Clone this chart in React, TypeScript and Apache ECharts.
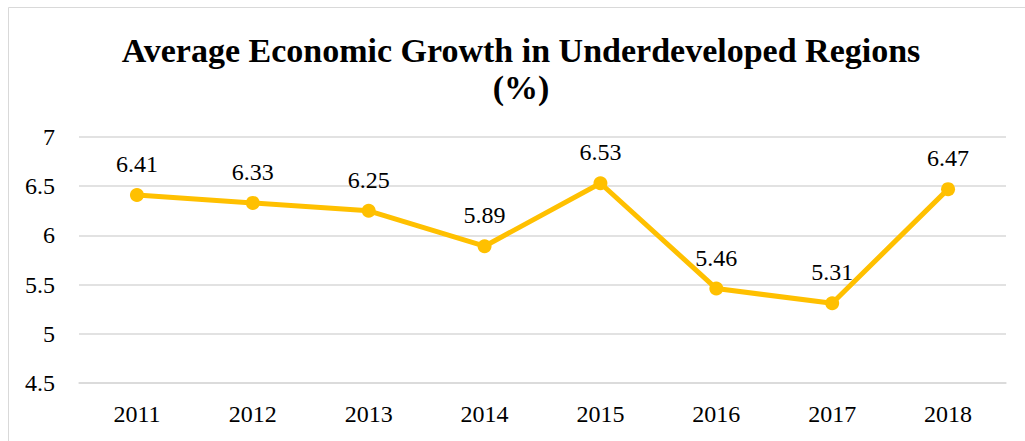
import React, { useEffect, useRef } from "react";
import * as echarts from "echarts";

const titleText = "Average Economic Growth in Underdeveloped Regions\n(%)";
const years = ["2011", "2012", "2013", "2014", "2015", "2016", "2017", "2018"];
const growth = [6.41, 6.33, 6.25, 5.89, 6.53, 5.46, 5.31, 6.47];
const yMin = 4.5;
const yMax = 7;
const yStep = 0.5;

const FONT = "Liberation Serif";
const TITLE_FONT = "Liberation Serif";
const GOLD = "#FFC000";

export default function App() {
  const ref = useRef<HTMLDivElement>(null);
  useEffect(() => {
    if (!ref.current) return;
    const chart = echarts.init(ref.current, undefined, { renderer: "svg" });
    chart.setOption({
      animation: false,
      backgroundColor: "#ffffff",
      textStyle: { fontFamily: FONT },
      graphic: [
        {
          type: "rect",
          shape: { x: 8.5, y: 7.5, width: 1100, height: 500 },
          style: { fill: "none", stroke: "#d9d9d9", lineWidth: 1 },
          silent: true,
        },
      ],
      title: {
        text: titleText,
        left: 516,
        top: 27,
        textAlign: "center",
        textStyle: {
          fontFamily: TITLE_FONT,
          fontWeight: "bold",
          fontSize: 34,
          lineHeight: 37,
          color: "#000000",
        },
      },
      grid: { left: 79, right: 19, top: 137, bottom: 58, containLabel: false },
      xAxis: {
        type: "category",
        data: years,
        boundaryGap: true,
        axisLine: { show: true, lineStyle: { color: "#d9d9d9", width: 1.5 } },
        axisTick: { show: false },
        axisLabel: {
          fontFamily: FONT,
          fontSize: 24,
          color: "#000000",
          margin: 19,
        },
      },
      yAxis: {
        type: "value",
        min: yMin,
        max: yMax,
        interval: yStep,
        axisLine: { show: false },
        axisTick: { show: false },
        splitLine: { show: true, lineStyle: { color: "#d9d9d9", width: 1.5 } },
        axisLabel: {
          fontFamily: FONT,
          fontSize: 24,
          color: "#000000",
          margin: 24,
        },
      },
      series: [
        {
          type: "line",
          data: growth,
          color: GOLD,
          lineStyle: { color: GOLD, width: 5 },
          symbol: "circle",
          symbolSize: 14,
          itemStyle: { color: GOLD },
          label: {
            show: true,
            position: "top",
            distance: 12,
            fontFamily: FONT,
            fontSize: 24,
            color: "#000000",
            formatter: (p: any) => p.value.toFixed(2),
          },
        },
      ],
    });
    return () => chart.dispose();
  }, []);
  return (
    <div
      ref={ref}
      style={{ position: "fixed", left: 0, top: 0, width: 1025, height: 441 }}
    />
  );
}
